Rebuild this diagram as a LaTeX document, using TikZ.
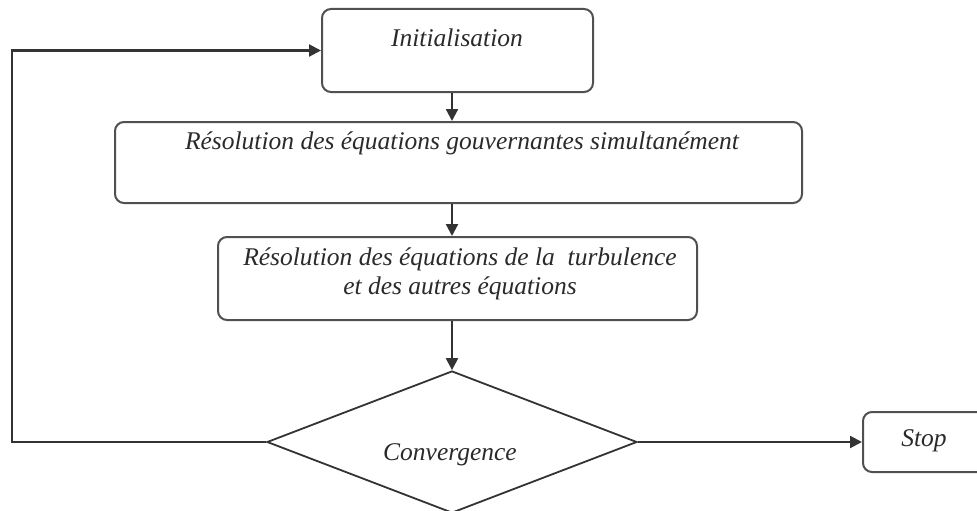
\documentclass[tikz,border=0pt]{standalone}
\usepackage{fontspec}
\setmainfont{Liberation Serif}
\usetikzlibrary{arrows.meta,shapes.geometric}
\definecolor{linec}{HTML}{333333}
\definecolor{boxc}{HTML}{505050}
\definecolor{txtc}{HTML}{2A2A2A}
\tikzset{
  box/.style={draw=boxc, line width=2pt, rounded corners=9pt, inner sep=0pt},
  lbl/.style={text=txtc, font=\fontsize{25.5}{29}\selectfont\itshape, inner sep=0pt, align=center},
  arr/.style={draw=linec, line width=2.2pt, -{Triangle[length=12pt,width=12pt]}},
}
\begin{document}
\begin{tikzpicture}[x=1pt,y=1pt]
\useasboundingbox (0,0) rectangle (977,-511);
\clip (0,0) rectangle (977,-511);
% boxes
\node[box, minimum width=271pt, minimum height=83pt] (init) at (457.5,-50.5) {};
\node[lbl] (tinit) at (457,-38) {Initialisation};
\node[box, minimum width=687pt, minimum height=81pt] (res1) at (458.5,-162.5) {};
\node[lbl] (tres1) at (462,-143) {Résolution des équations gouvernantes simultanément};
\node[box, minimum width=479pt, minimum height=83pt] (res2) at (457.5,-278.5) {};
\node[lbl] (tres2) at (460,-274) {Résolution des équations de la\ \ turbulence\\et des autres équations};
\node[diamond, draw=linec, line width=1.8pt, inner sep=0pt, minimum width=370pt, minimum height=142pt] (conv) at (452,-442) {};
\node[lbl] (tconv) at (450,-455) {Convergence};
\node[box, minimum width=124pt, minimum height=60pt] (stop) at (925,-442) {};
\node[lbl] (tstop) at (924,-441) {Stop};
% connectors
\coordinate (lc) at (12,-442);
\draw[arr] (init.south -| conv.north) -- (res1.north -| conv.north);
\draw[arr] (res1.south -| conv.north) -- (res2.north -| conv.north);
\draw[arr] (res2.south -| conv.north) -- (conv.north);
\draw[arr] (conv.east) -- (stop.west);
\draw[arr] (conv.west) -- (lc) |- (init.west);
\end{tikzpicture}
\end{document}
